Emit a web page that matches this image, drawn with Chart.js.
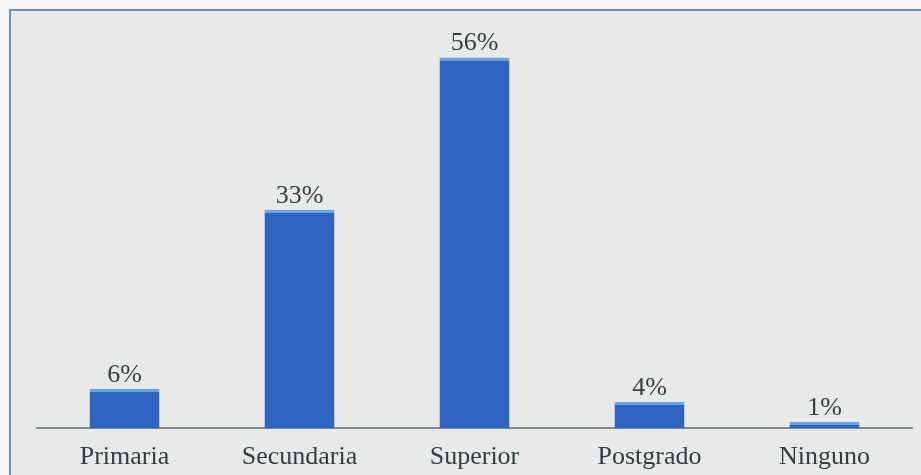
<!DOCTYPE html>
<html>
<head>
<meta charset="utf-8">
<script src="https://cdn.jsdelivr.net/npm/chart.js@4/dist/chart.umd.min.js"></script>
<style>
  html, body { margin: 0; padding: 0; background: #f3f4f4; }
  #wrap { width: 921px; height: 475px; }
</style>
</head>
<body>
<div id="wrap"><canvas id="chart" width="921" height="475"></canvas></div>
<script>
// Nivel de estudios (porcentaje)
const categories = ['Primaria', 'Secundaria', 'Superior', 'Postgrado', 'Ninguno'];
const values = [6, 33, 56, 4, 1];
const valueLabels = ['6%', '33%', '56%', '4%', '1%'];

const serif = '"Liberation Serif", "DejaVu Serif", serif';

// scanned-page look: grey panel with a blue frame on top and left
const framePlugin = {
    id: 'frame',
    beforeDraw(chart) {
        const ctx = chart.ctx;
        ctx.save();
        ctx.fillStyle = '#f3f4f4';
        ctx.fillRect(0, 0, chart.width, chart.height);
        ctx.fillStyle = '#e7eae9';
        ctx.fillRect(9, 9, chart.width - 9, chart.height - 9);
        ctx.strokeStyle = '#6f8fb6';
        ctx.lineWidth = 2;
        ctx.beginPath();
        ctx.moveTo(chart.width, 10);
        ctx.lineTo(10, 10);
        ctx.lineTo(10, chart.height);
        ctx.stroke();
        ctx.restore();
    }
};

// percentage labels above each bar
const valueLabelPlugin = {
    id: 'valueLabels',
    afterDatasetsDraw(chart) {
        const ctx = chart.ctx;
        const meta = chart.getDatasetMeta(0);
        ctx.save();
        ctx.font = '26px ' + serif;
        ctx.fillStyle = '#3a4042';
        ctx.textAlign = 'center';
        ctx.textBaseline = 'alphabetic';
        meta.data.forEach((bar, i) => {
            ctx.fillText(valueLabels[i], bar.x, bar.y - 7);
        });
        ctx.restore();
    }
};

new Chart(document.getElementById('chart'), {
    type: 'bar',
    data: {
        labels: categories,
        datasets: [{
            data: values,
            backgroundColor: '#2e63c2',
            borderColor: '#65a6e8',
            borderWidth: { top: 3, left: 0, right: 0, bottom: 0 },
            borderSkipped: false,
            categoryPercentage: 0.8,
            barPercentage: 0.5
        }]
    },
    options: {
        responsive: false,
        animation: false,
        layout: { padding: { left: 37, right: 9, top: 31, bottom: -10 } },
        plugins: {
            legend: { display: false },
            tooltip: { enabled: false }
        },
        scales: {
            x: {
                grid: { display: false, drawTicks: false },
                border: { display: true, color: '#858b8a', width: 2 },
                ticks: {
                    padding: 14,
                    color: '#333d40',
                    font: { family: serif, size: 26, lineHeight: 1.1 }
                }
            },
            y: {
                display: false,
                min: 0,
                max: 60
            }
        }
    },
    plugins: [framePlugin, valueLabelPlugin]
});
</script>
</body>
</html>
